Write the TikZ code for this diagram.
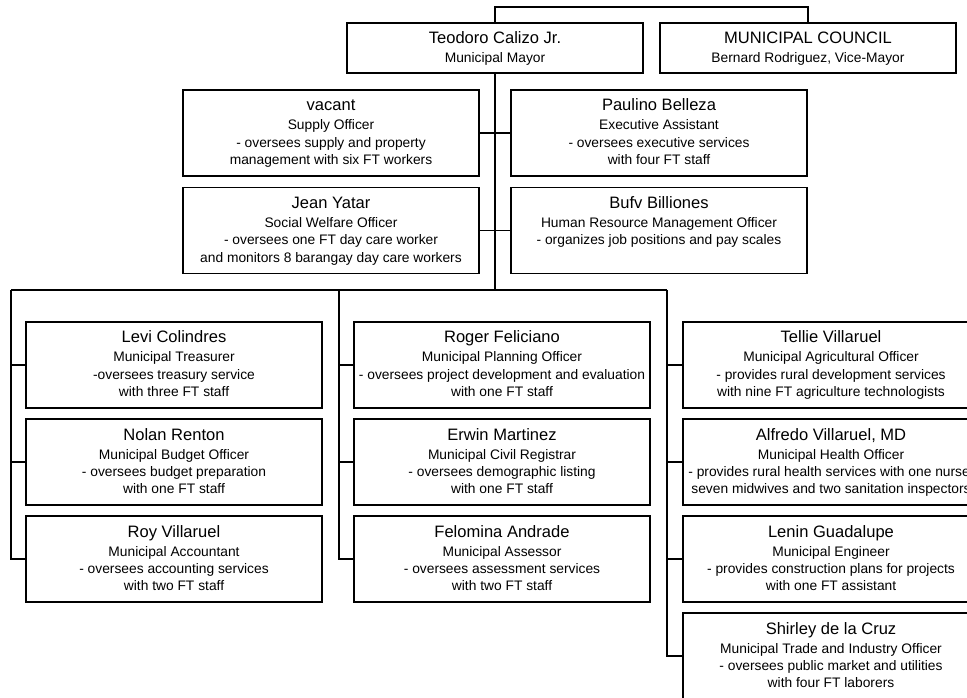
\documentclass[tikz,border=0pt]{standalone}
\usepackage{fontspec}
\setmainfont{Liberation Sans}
\newcommand\namefnt{\fontsize{12.4pt}{14pt}\selectfont}
\newcommand\detfnt{\fontsize{10.35pt}{13.1pt}\selectfont}
\newcommand\txl[1]{\centerline{#1}}
\newcommand\orgtext[3]{\parbox[c][#1][t]{222pt}{\namefnt\centerline{\rule{0pt}{15.75pt}#2}\vspace{1.15pt}\detfnt #3}}
\begin{document}
\begin{tikzpicture}[x=0.75pt,y=-0.75pt,
  obox/.style={draw=black, line width=0.8pt, inner sep=0pt, outer sep=0pt, fill=white},
  link/.style={line width=0.8pt, draw=black},
  trunk/.style={line width=1.4pt, draw=black}]
\useasboundingbox (0,0) rectangle (967,698);
\clip (0,0) rectangle (967,698);
\fill[white] (0,0) rectangle (967,698);

% top level
\node[obox] (mayor) at (495,48) {\orgtext{37.5pt}{Teodoro Calizo Jr.}{\txl{Municipal Mayor}}};
\node[obox] (council) at (808,48) {\orgtext{37.5pt}{MUNICIPAL COUNCIL}{\txl{Bernard Rodriguez, Vice-Mayor}}};

% staff
\node[obox] (supply) at (331,133) {\orgtext{64.5pt}{vacant}{\txl{Supply Officer}\txl{- oversees supply and property}\txl{management with six FT workers}}};
\node[obox] (exec) at (659,133) {\orgtext{64.5pt}{Paulino Belleza}{\txl{Executive Assistant}\txl{- oversees executive services}\txl{with four FT staff}}};
\node[obox] (social) at (331,230.5) {\orgtext{64.5pt}{Jean Yatar}{\txl{Social Welfare Officer}\txl{- oversees one FT day care worker}\txl{and monitors 8 barangay day care workers}}};
\node[obox] (hr) at (659,230.5) {\orgtext{64.5pt}{Bufv Billiones}{\txl{Human Resource Management Officer}\txl{- organizes job positions and pay scales}}};

% left column
\node[obox] (levi) at (174,365) {\orgtext{64.5pt}{Levi Colindres}{\txl{Municipal Treasurer}\txl{-oversees treasury service}\txl{with three FT staff}}};
\node[obox] (nolan) at (174,462) {\orgtext{64.5pt}{Nolan Renton}{\txl{Municipal Budget Officer}\txl{- oversees budget preparation}\txl{with one FT staff}}};
\node[obox] (roy) at (174,559) {\orgtext{64.5pt}{Roy Villaruel}{\txl{Municipal Accountant}\txl{- oversees accounting services}\txl{with two FT staff}}};

% middle column
\node[obox] (roger) at (502,365) {\orgtext{64.5pt}{Roger Feliciano}{\txl{Municipal Planning Officer}\txl{- oversees project development and evaluation}\txl{with one FT staff}}};
\node[obox] (erwin) at (502,462) {\orgtext{64.5pt}{Erwin Martinez}{\txl{Municipal Civil Registrar}\txl{- oversees demographic listing}\txl{with one FT staff}}};
\node[obox] (felomina) at (502,559) {\orgtext{64.5pt}{Felomina Andrade}{\txl{Municipal Assessor}\txl{- oversees assessment services}\txl{with two FT staff}}};

% right column
\node[obox] (tellie) at (831,365) {\orgtext{64.5pt}{Tellie Villaruel}{\txl{Municipal Agricultural Officer}\txl{- provides rural development services}\txl{with nine FT agriculture technologists}}};
\node[obox] (alfredo) at (831,462) {\orgtext{64.5pt}{Alfredo Villaruel, MD}{\txl{Municipal Health Officer}\txl{- provides rural health services with one nurse,}\txl{seven midwives and two sanitation inspectors}}};
\node[obox] (lenin) at (831,559) {\orgtext{64.5pt}{Lenin Guadalupe}{\txl{Municipal Engineer}\txl{- provides construction plans for projects}\txl{with one FT assistant}}};
\node[obox] (shirley) at (831,656) {\orgtext{64.5pt}{Shirley de la Cruz}{\txl{Municipal Trade and Industry Officer}\txl{- oversees public market and utilities}\txl{with four FT laborers}}};

% connectors
\draw[link] (mayor.north) -- ++(0,-16) -| (council.north);
\coordinate (hub) at (495,290);
\coordinate (busL) at (11,290);
\coordinate (busM) at (339,290);
\coordinate (busR) at (667,290);
\draw[trunk] (mayor.south) -- (hub);
\draw[link] (supply.east) -- (exec.west);
\draw[link] (social.east) -- (hr.west);
\draw[link] (busL) -- (busR);
\draw[link] (busL) |- (roy.west);
\draw[link] (levi.west -| busL) -- (levi.west);
\draw[link] (nolan.west -| busL) -- (nolan.west);
\draw[link] (busM) |- (felomina.west);
\draw[link] (roger.west -| busM) -- (roger.west);
\draw[link] (erwin.west -| busM) -- (erwin.west);
\draw[link] (busR) |- (shirley.west);
\draw[link] (tellie.west -| busR) -- (tellie.west);
\draw[link] (alfredo.west -| busR) -- (alfredo.west);
\draw[link] (lenin.west -| busR) -- (lenin.west);
\end{tikzpicture}
\end{document}
